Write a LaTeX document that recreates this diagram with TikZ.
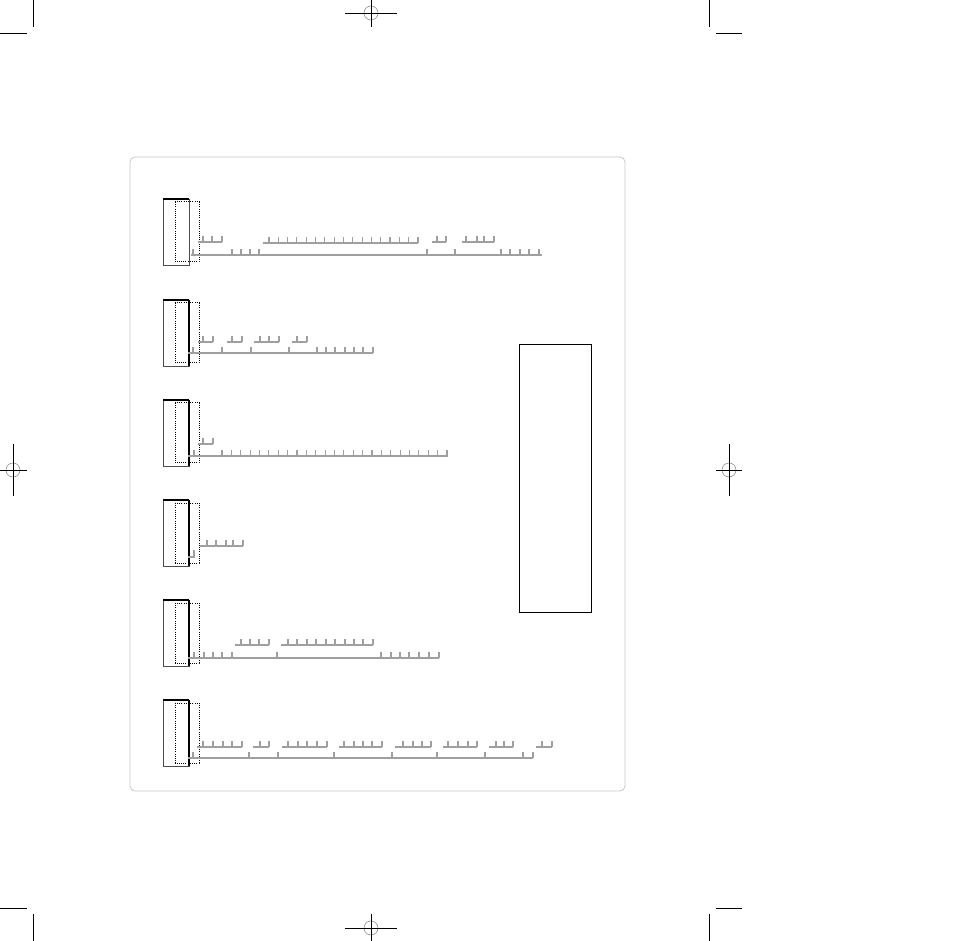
\documentclass[tikz,border=0pt]{standalone}
\begin{document}
\begin{tikzpicture}[x=1pt,y=-1pt,line width=0.8pt,
	tick/.style={draw=gray!75,line width=1.1pt},
	crop/.style={line width=0.9pt},
	dots/.style={dash pattern=on 1pt off 1.2pt,line width=1pt}]
	\useasboundingbox (0,0) rectangle (954,941);
	% crop marks
	\draw[crop] (33,0)--(33,27) (0,33)--(27,33);
	\draw[crop] (709,0)--(709,27) (716,33)--(742,33);
	\draw[crop] (33,914)--(33,941) (0,908)--(27,908);
	\draw[crop] (709,914)--(709,941) (716,908)--(742,908);
	% registration marks
	\foreach \cx/\cy/\a/\b in {371/13/26/14,371/928/26/14,13/470/14/26,729/470/13/26}{
		\draw[gray,line width=0.5pt] (\cx,\cy) circle (7);
		\draw[crop] (\cx-\a,\cy)--(\cx+\a,\cy) (\cx,\cy-\b)--(\cx,\cy+\b);
	}
	% frame and side box
	\draw[gray!45,line width=0.8pt,rounded corners=5pt] (130,157) rectangle (625,791);
	\draw[line width=1pt] (519,345) rectangle (591,612);
	% blocks
	\foreach \y in {199,300,400,500,600,700}{
		\draw[gray!60!black] (163,\y) rectangle (189,\y+66);
		\draw[line width=1.8pt] (163,\y)--(189,\y);
		\draw[dots] (175,\y+3) rectangle (199,\y+63);
	}
	\foreach \y in {300,400,500,600,700}
		\draw[line width=1.8pt] (189,\y)--(189,\y+66);
	% block 1
	\draw[tick] (198,242)--(222,242) foreach \x in {203,212,222}{(\x,242)--++(0,-6)};
	\draw[tick] (263,243)--(418,243) foreach \i in {0,...,16}{(269+9.31*\i,243)--++(0,-6)};
	\draw[tick] (432,242)--(446,242) foreach \x in {437,446}{(\x,242)--++(0,-6)};
	\draw[tick] (462,242)--(494,242) foreach \x in {466,477,484,494}{(\x,242)--++(0,-6)};
	\draw[tick] (191,255)--(542,255) foreach \x in {193,232,241,250,259,427,455,501,510,520,529,539}{(\x,255)--++(0,-6)};
	% block 2
	\draw[tick] (198,342)--(213,342) foreach \x in {203,213}{(\x,342)--++(0,-6)};
	\draw[tick] (227,342)--(242,342) foreach \x in {232,242}{(\x,342)--++(0,-6)};
	\draw[tick] (254,342)--(279,342) foreach \x in {260,269,279}{(\x,342)--++(0,-6)};
	\draw[tick] (292,342)--(307,342) foreach \x in {297,307}{(\x,342)--++(0,-6)};
	\draw[tick] (188,353)--(373,353) foreach \x in {193,222,251,289,317,326,335,345,354,363,373}{(\x,353)--++(0,-6)};
	% block 3
	\draw[tick] (198,444)--(213,444) foreach \x in {203,213}{(\x,444)--++(0,-6)};
	\draw[tick] (188,456)--(448,456) foreach \x in {194}{(\x,456)--++(0,-6)}
		foreach \i in {0,...,24}{(222+9.375*\i,456)--++(0,-6)};
	% block 4
	\draw[tick] (200,546)--(243,546) foreach \x in {207,216,226,233,243}{(\x,546)--++(0,-6)};
	\draw[tick] (188,557)--(194,557)--(194,550);
	% block 5
	\draw[tick] (235,645)--(269,645) foreach \x in {241,250,259,269}{(\x,645)--++(0,-6)};
	\draw[tick] (281,645)--(373,645) foreach \x in {288,297,307,316,326,335,345,354,363,373}{(\x,645)--++(0,-6)};
	\draw[tick] (188,658)--(439,658) foreach \x in {194,204,213,222,232,277,381,391,400,409,419,429,439}{(\x,658)--++(0,-6)};
	% block 6
	\draw[tick] (197,747)--(242,747) foreach \x in {203,213,223,232,242}{(\x,747)--++(0,-6)};
	\draw[tick] (253,747)--(269,747) foreach \x in {260,269}{(\x,747)--++(0,-6)};
	\draw[tick] (282,747)--(327,747) foreach \x in {288,298,307,317,327}{(\x,747)--++(0,-6)};
	\draw[tick] (339,747)--(382,747) foreach \x in {344,354,363,372,382}{(\x,747)--++(0,-6)};
	\draw[tick] (395,747)--(431,747) foreach \x in {403,413,422,431}{(\x,747)--++(0,-6)};
	\draw[tick] (443,747)--(477,747) foreach \x in {448,458,468,477}{(\x,747)--++(0,-6)};
	\draw[tick] (489,747)--(513,747) foreach \x in {496,504,513}{(\x,747)--++(0,-6)};
	\draw[tick] (536,747)--(552,747) foreach \x in {542,552}{(\x,747)--++(0,-6)};
	\draw[tick] (188,758)--(533,758) foreach \x in {193,249,278,334,392,437,485,523,533}{(\x,758)--++(0,-6)};
\end{tikzpicture}
\end{document}
